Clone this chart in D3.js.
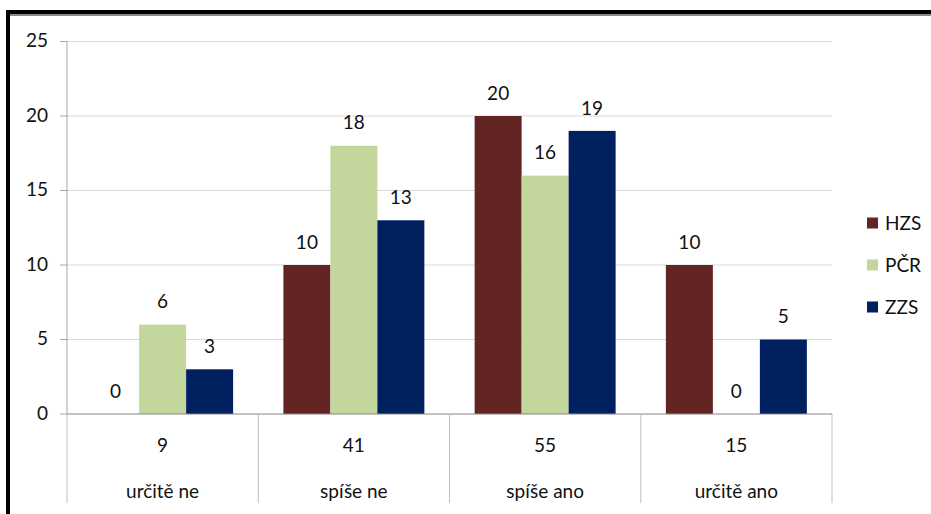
<!DOCTYPE html>
<html>
<head>
<meta charset="utf-8">
<script src="https://cdn.jsdelivr.net/npm/d3@7"></script>
<style>
  body { margin: 0; background: #fff; }
  text { font-family: Lato, "Open Sans", sans-serif; fill: #111; font-size: 19px; }
</style>
</head>
<body>
<svg id="chart" width="931" height="514"></svg>
<script>
var categories = ["určitě ne", "spíše ne", "spíše ano", "určitě ano"];
var totals = [9, 41, 55, 15];
var series = ["HZS", "PČR", "ZZS"];
var hzs = [0, 10, 20, 10];
var pcr = [6, 18, 16, 0];
var zzs = [3, 13, 19, 5];
var yTicks = [0, 5, 10, 15, 20, 25];
var colors = ["#632523", "#c3d69b", "#002060"];

var values = [hzs, pcr, zzs];
var svg = d3.select("#chart");

// frame like the pasted chart
svg.append("rect").attr("x", 6).attr("y", 10).attr("width", 925).attr("height", 4).attr("fill", "#000");
svg.append("rect").attr("x", 10).attr("y", 14).attr("width", 921).attr("height", 2).attr("fill", "#8a8a8a");
svg.append("rect").attr("x", 6).attr("y", 10).attr("width", 4).attr("height", 504).attr("fill", "#000");

var x = d3.scaleBand().domain(categories).range([67, 832]);
var xs = d3.scaleBand().domain(series).range([0, x.bandwidth()]).paddingOuter(0.535);
var y = d3.scaleLinear().domain([0, 25]).range([414, 41.5]);

// gridlines
svg.selectAll(".grid").data(yTicks.slice(1)).enter().append("line")
    .attr("x1", 67).attr("x2", 832)
    .attr("y1", d => y(d)).attr("y2", d => y(d))
    .attr("stroke", "#d9d9d9").attr("stroke-width", 1);

// y axis
svg.append("line").attr("x1", 67).attr("x2", 67).attr("y1", y(25)).attr("y2", 414)
    .attr("stroke", "#a6a6a6");
svg.selectAll(".ytick").data(yTicks).enter().append("line")
    .attr("x1", 60).attr("x2", 67)
    .attr("y1", d => y(d)).attr("y2", d => y(d))
    .attr("stroke", "#a6a6a6");
svg.selectAll(".ylab").data(yTicks).enter().append("text")
    .attr("x", 48).attr("y", d => y(d) - 1)
    .attr("dy", "0.35em").attr("text-anchor", "end")
    .text(d => d);

// bars
var bars = [];
categories.forEach((c, i) => {
    series.forEach((s, j) => {
        bars.push({ cat: c, ser: s, val: values[j][i], col: colors[j] });
    });
});
svg.selectAll(".bar").data(bars).enter().append("rect")
    .attr("x", d => x(d.cat) + xs(d.ser))
    .attr("width", xs.bandwidth())
    .attr("y", d => y(d.val))
    .attr("height", d => 414 - y(d.val))
    .attr("fill", d => d.col);
svg.selectAll(".val").data(bars).enter().append("text")
    .attr("x", d => x(d.cat) + xs(d.ser) + xs.bandwidth() / 2)
    .attr("y", d => y(d.val) - 23)
    .attr("dy", "0.35em").attr("text-anchor", "middle")
    .text(d => d.val);

// x axis line and table-like separators
svg.append("line").attr("x1", 67).attr("x2", 832).attr("y1", 414).attr("y2", 414)
    .attr("stroke", "#868686");
var seps = categories.map(c => x(c)).concat([x.range()[1]]);
svg.selectAll(".sep").data(seps).enter().append("line")
    .attr("x1", d => d).attr("x2", d => d)
    .attr("y1", 414).attr("y2", 503)
    .attr("stroke", "#bfbfbf");

svg.selectAll(".tot").data(categories).enter().append("text")
    .attr("x", d => x(d) + x.bandwidth() / 2).attr("y", 445)
    .attr("dy", "0.35em").attr("text-anchor", "middle")
    .text((d, i) => totals[i]);
svg.selectAll(".cat").data(categories).enter().append("text")
    .attr("x", d => x(d) + x.bandwidth() / 2).attr("y", 491)
    .attr("dy", "0.35em").attr("text-anchor", "middle")
    .text(d => d);

// legend
var legend = svg.selectAll(".leg").data(series).enter().append("g")
    .attr("transform", (d, i) => "translate(867," + (223 + i * 42) + ")");
legend.append("rect").attr("x", 0).attr("y", -5.5).attr("width", 11).attr("height", 11)
    .attr("fill", (d, i) => colors[i]);
legend.append("text").attr("x", 18).attr("y", 0).attr("dy", "0.35em")
    .text(d => d);
</script>
</body>
</html>
